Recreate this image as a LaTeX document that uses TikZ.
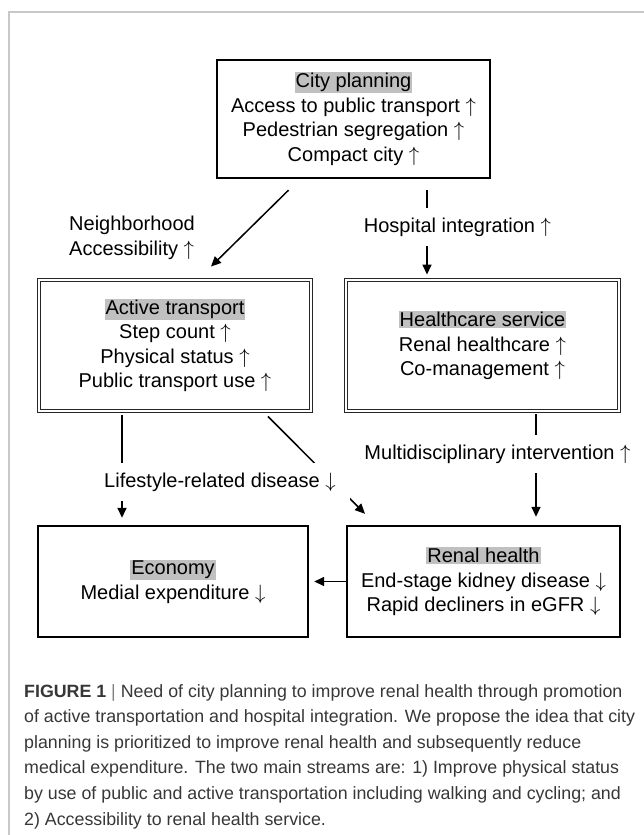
\documentclass[tikz,border=0pt]{standalone}
\usepackage{fontspec}
\setmainfont{Liberation Sans}
\usepackage{tikz}
\usetikzlibrary{arrows.meta,positioning,calc}
\definecolor{hlgray}{RGB}{192,192,192}
\definecolor{framegray}{RGB}{200,200,200}
\definecolor{captext}{RGB}{55,55,55}
\newcommand{\hlbox}[1]{{\setlength{\fboxsep}{1pt}\colorbox{hlgray}{#1}}}
\newcommand{\upar}{$\uparrow$}
\newcommand{\dnar}{$\downarrow$}

\begin{document}
\begin{tikzpicture}[x=1pt,y=-1pt,
  boxfont/.style={font=\fontsize{20}{24.5}\selectfont},
  thickbox/.style={boxfont,draw,line width=2.4pt,align=center,inner sep=0pt},
  dblbox/.style={boxfont,draw=black!85,double,double distance=2pt,line width=0.9pt,align=center,inner sep=0pt,minimum height=131pt},
  edgetext/.style={boxfont,align=center,fill=white,inner xsep=2pt,inner ysep=10pt},
  arr/.style={line width=1.5pt,-{Triangle[length=10pt,width=9pt]}}]
  \useasboundingbox (0,0) rectangle (644,835); % 画像全体の大きさ
  \draw[framegray,line width=1.5pt] (9,835) -- (9,12) -- (644,12); % 左と上の灰色の枠線
  \node[thickbox,minimum width=273pt,minimum height=118pt] (city) at (353.5,119)
    {\hlbox{City planning}\\Access to public transport \upar\\Pedestrian segregation \upar\\Compact city \upar}; % 都市計画の箱
  \node[dblbox,minimum width=272pt] (active) at (175,345.5)
    {\hlbox{Active transport}\\Step count \upar\\Physical status \upar\\Public transport use \upar}; % 左中段の二重線の箱
  \node[dblbox,minimum width=273pt] (health) at (482.5,345.5)
    {\hlbox{Healthcare service}\\Renal healthcare \upar\\Co-management \upar}; % 右中段の二重線の箱
  \node[thickbox,minimum width=270pt,minimum height=111pt] (econ) at (173,581.5)
    {\hlbox{Economy}\\Medial expenditure \dnar}; % 左下の箱
  \node[thickbox,minimum width=273pt,minimum height=111pt] (renal) at (483.5,581.5)
    {\hlbox{Renal health}\\End-stage kidney disease \dnar\\Rapid decliners in eGFR \dnar}; % 右下の箱
  \coordinate (hcol) at (427,0); % 病院統合の矢印の x 位置
  \coordinate (lcol) at (122,0); % 左の縦矢印の x 位置
  \coordinate (rcol) at (536,0); % 右の縦矢印の x 位置
  \draw[arr] ([xshift=-65pt,yshift=-11pt]city.south) -- ([xshift=36pt,yshift=13pt]active.north); % 斜めの矢印（左下向き）
  \draw[arr,shorten <=11pt,shorten >=5pt] (city.south -| hcol) -- (health.north -| hcol); % 都市計画から医療へ
  \draw[arr,shorten <=4pt,shorten >=7pt] (active.south -| lcol) -- (econ.north -| lcol); % 活動的移動から経済へ
  \draw[arr] ([xshift=93pt,yshift=-5pt]active.south) -- ([xshift=-118.5pt,yshift=11pt]renal.north); % 斜めの矢印（右下向き）
  \draw[arr,shorten <=3pt,shorten >=8pt] (health.south -| rcol) -- (renal.north -| rcol); % 医療から腎臓の健康へ
  \draw[arr,shorten >=5pt] (renal.west) -- (econ.east); % 腎臓の健康から経済へ
  \node[boxfont,align=left,anchor=west,inner sep=0pt] (nbh) at (69,238) {Neighborhood\\Accessibility \upar}; % 斜め矢印の横の文字
  \node[edgetext] (hosp) at (457.5,227) {Hospital integration \upar}; % 縦矢印を切る文字
  \node[edgetext,inner xsep=14pt] (life) at (220,482) {Lifestyle-related disease \dnar}; % 二本の矢印を切る文字
  \node[edgetext] (multi) at (497.5,454) {Multidisciplinary intervention \upar}; % 右の縦矢印を切る文字
  \node[font=\fontsize{17.8}{25.6}\selectfont,text=captext,align=left,anchor=north west,inner sep=0pt] (cap) at (24,684)
    {\textbf{FIGURE 1} {\color{gray}|} Need of city planning to improve renal health through promotion\\
     of active transportation and hospital integration. We propose the idea that city\\
     planning is prioritized to improve renal health and subsequently reduce\\
     medical expenditure. The two main streams are: 1) Improve physical status\\
     by use of public and active transportation including walking and cycling; and\\
     2) Accessibility to renal health service.}; % 図の説明文
\end{tikzpicture}
\end{document}
